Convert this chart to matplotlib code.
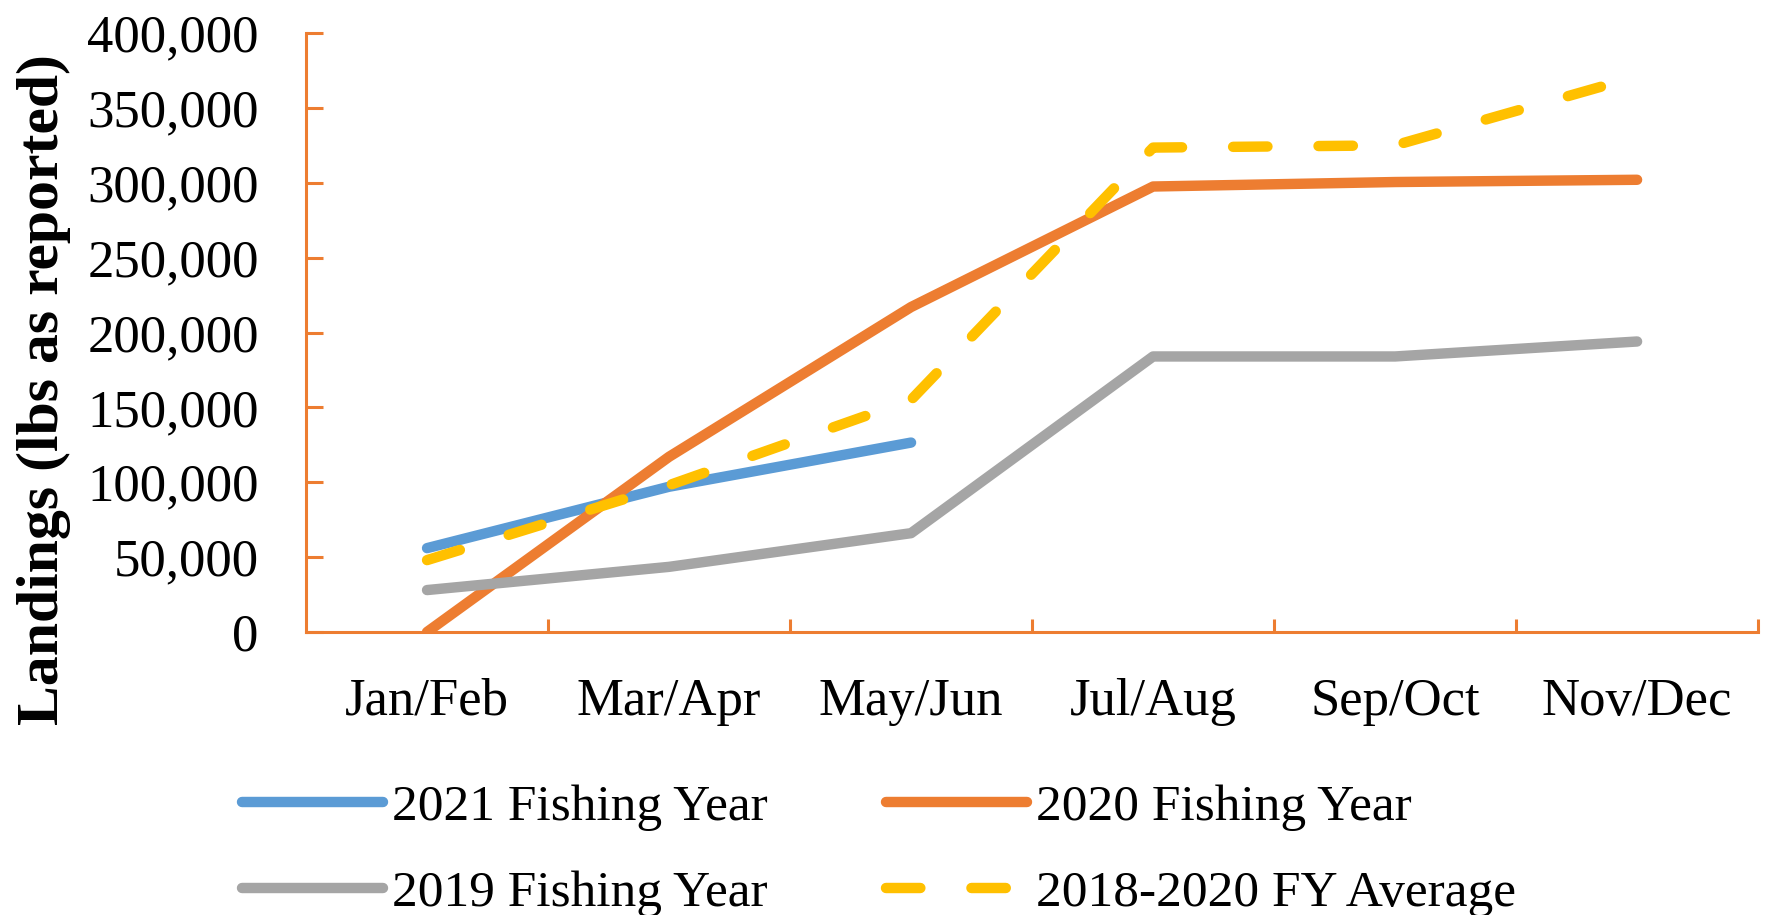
import numpy as np
import matplotlib
matplotlib.use('Agg')
import matplotlib.pyplot as plt
from matplotlib.ticker import FuncFormatter, MultipleLocator

plt.rcParams['font.family'] = ['Liberation Serif', 'DejaVu Serif']

# Data (lbs as reported)
periods = ['Jan/Feb', 'Mar/Apr', 'May/Jun', 'Jul/Aug', 'Sep/Oct', 'Nov/Dec']
fy2021 = [56000, 97000, 126500, np.nan, np.nan, np.nan]
fy2020 = [0, 117000, 217000, 297500, 300500, 302000]
fy2019 = [28000, 43500, 66000, 184000, 184000, 194000]
fy_avg = [48000, 98000, 155000, 323500, 325000, 371000]

labels = ['2021 Fishing Year', '2020 Fishing Year', '2019 Fishing Year', '2018-2020 FY Average']
colors = ['#5B9BD5', '#ED7D31', '#A5A5A5', '#FFC000']
axis_color = '#ED7D31'

fig = plt.figure(figsize=(17.68, 9.15), dpi=100)
ax = fig.add_axes([0.1731, 0.3093, 0.8213, 0.6546])

x = np.arange(len(periods))
lw = 7.5
h21, = ax.plot(x, fy2021, color=colors[0], lw=lw, solid_capstyle='round', label=labels[0])
h20, = ax.plot(x, fy2020, color=colors[1], lw=lw, solid_capstyle='round', label=labels[1])
h19, = ax.plot(x, fy2019, color=colors[2], lw=lw, solid_capstyle='round', label=labels[2])
hav, = ax.plot(x, fy_avg, color=colors[3], lw=lw, linestyle=(0, (3.3, 4.9)),
               dash_capstyle='round', label=labels[3])

# Axes
ax.set_xlim(-0.5, len(periods) - 0.5)
ax.set_ylim(0, 400000)
for side in ['top', 'right']:
    ax.spines[side].set_visible(False)
for side in ['left', 'bottom']:
    ax.spines[side].set_color(axis_color)
    ax.spines[side].set_linewidth(2.2)

ax.yaxis.set_major_locator(MultipleLocator(50000))
ax.yaxis.set_major_formatter(FuncFormatter(lambda v, p: f'{int(v):,}'))
ax.tick_params(axis='y', direction='in', length=12.5, width=2.2, color=axis_color,
               labelsize=38, pad=34)

ax.set_xticks(x)
ax.set_xticklabels(periods)
ax.set_xticks(np.arange(0.5, len(periods)), minor=True)
ax.tick_params(axis='x', which='major', length=0, labelsize=38, pad=33)
ax.tick_params(axis='x', which='minor', direction='in', length=9.5, width=2.2,
               color=axis_color)

fig.text(0.025, 0.574, 'Landings (lbs as reported)', rotation=90, ha='center',
         va='center', fontsize=43, fontweight='bold')

# Legend: two rows, Excel-style ordering
fig.legend([h21, h19, h20, hav], [labels[0], labels[2], labels[1], labels[3]],
           ncol=2, loc='upper left', bbox_to_anchor=(0.1369, 0.1430),
           frameon=False, fontsize=37, handlelength=2.74, handletextpad=0.18,
           columnspacing=2.3, labelspacing=0.75, borderpad=0, borderaxespad=0)

fig.savefig('out.png', dpi=100)
